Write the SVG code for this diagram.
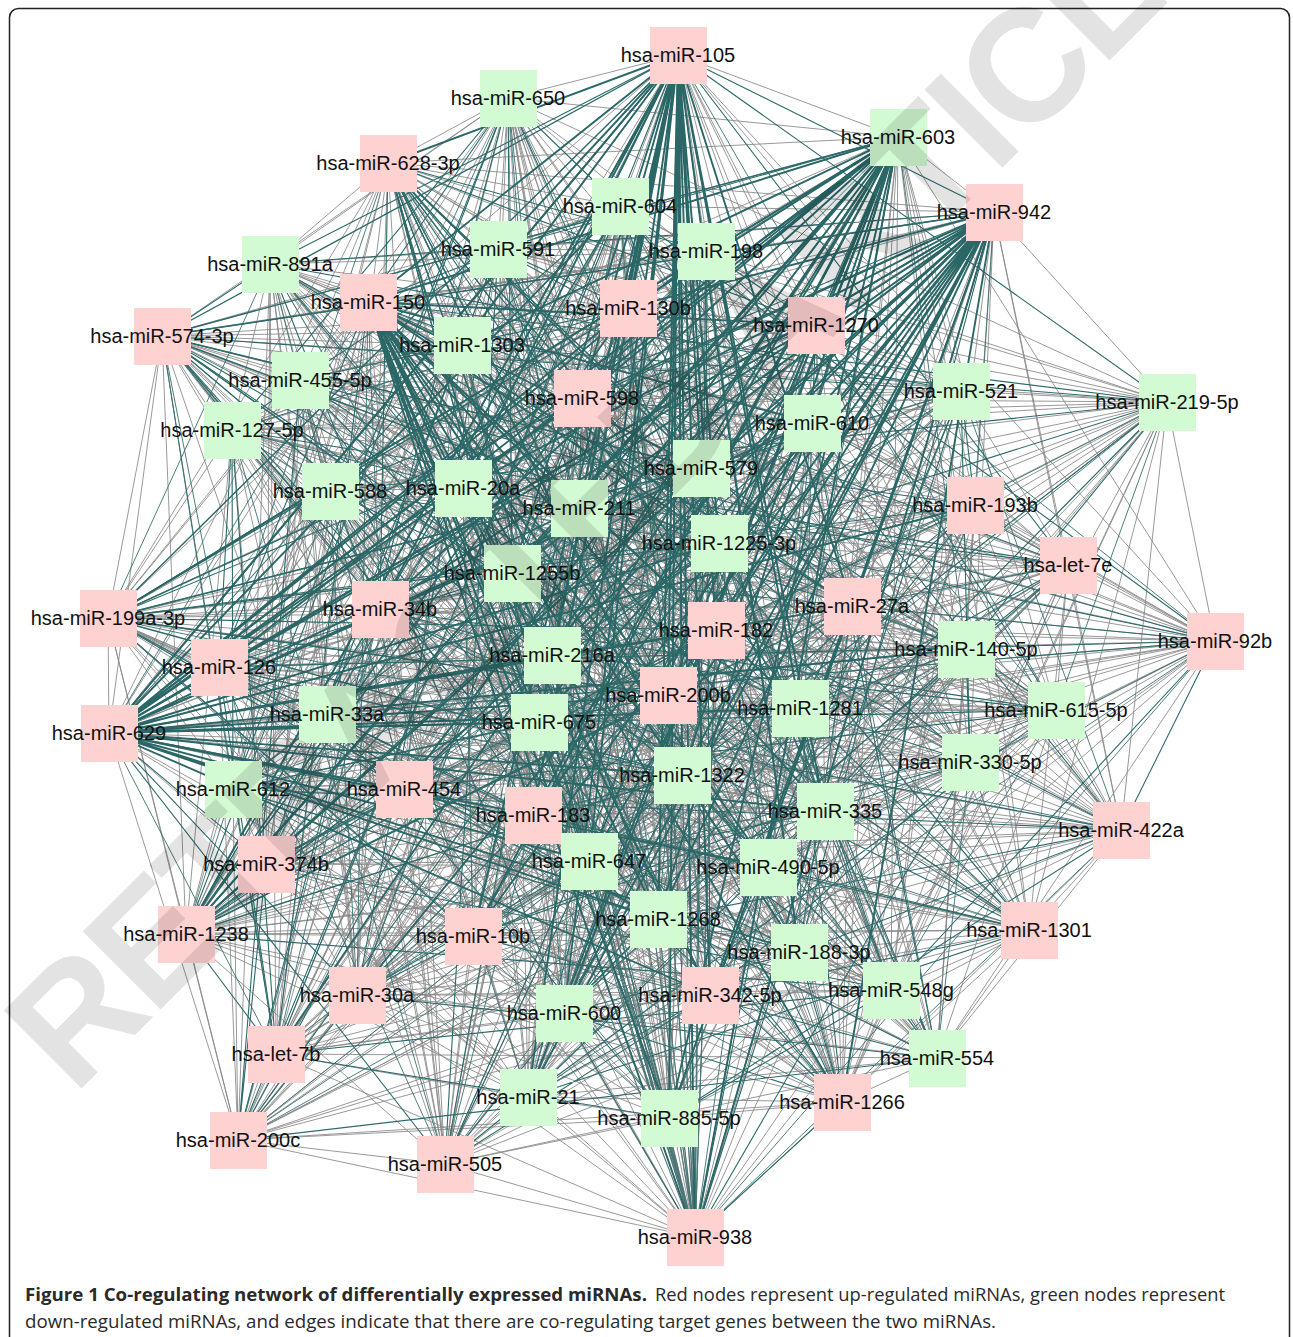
<svg xmlns="http://www.w3.org/2000/svg" width="1293" height="1337" viewBox="0 0 1293 1337">
<style>
.eg{fill:none;stroke:#868686;stroke-width:0.85;stroke-linejoin:round}
.et{fill:none;stroke:#2e6a6a;stroke-width:1.1;stroke-linejoin:round}
.et2{fill:none;stroke:#3a6f6f;stroke-width:0.9;stroke-linejoin:round}
.es{fill:none;stroke:#2e6a6a;stroke-width:1.4;stroke-linejoin:round}
.eb{fill:none;stroke:#4f7777;stroke-width:1.1;stroke-linejoin:round}
.eh{fill:none;stroke:#2b6767;stroke-width:1.9;stroke-linejoin:round}
.r{fill:#ffd2d2}
.g{fill:#d3fbd3}
.lb{font-family:"Liberation Sans",Arial,sans-serif;font-size:20px;fill:#111;text-anchor:middle}
.cap{font-family:"Open Sans","Noto Sans","Liberation Sans",sans-serif;font-size:18.5px;fill:#2a2a2a}
</style>
<rect x="9.5" y="8.5" width="1280" height="1340" rx="9" fill="#fff" stroke="#222" stroke-width="1.5"/>
<g id="connectors">
<polygon class="eg" points="678,55 508,98 898,137 388,163 994,212 620,206 498,249 706,251 270,264 368,302 628,308 816,325 162,336 462,345 300,380 582,398 961,391 1167,402 232,430 812,423 701,468 330,491 463,488 579,508 975,505 719,543 1068,565 512,573 108,618 380,609 852,606 1215,641 716,630 552,655 966,649 219,667 668,695 1056,710 800,708 327,714 539,722 109,733 970,762 682,775 233,789 404,789 825,811 533,815 1121,830 266,864 589,861 768,867 658,919 186,934 473,936 1029,930 799,952 891,990 357,995 710,995 564,1013 276,1054 937,1058 528,1097 842,1102 669,1118 238,1140 445,1164 695,1237"/>
<polygon class="eg" points="678,55 898,137 994,212 498,249 270,264 628,308 162,336 300,380 961,391 232,430 701,468 463,488 975,505 1068,565 108,618 852,606 716,630 966,649 668,695 800,708 539,722 970,762 233,789 825,811 1121,830 589,861 658,919 473,936 799,952 357,995 564,1013 937,1058 842,1102 238,1140 695,1237 508,98 388,163 620,206 706,251 368,302 816,325 462,345 582,398 1167,402 812,423 330,491 579,508 719,543 512,573 380,609 1215,641 552,655 219,667 1056,710 327,714 109,733 682,775 404,789 533,815 266,864 768,867 186,934 1029,930 891,990 710,995 276,1054 528,1097 669,1118 445,1164"/>
<polygon class="eg" points="678,55 620,206 628,308 582,398 701,468 719,543 852,606 219,667 539,722 404,789 589,861 1029,930 564,1013 669,1118 508,98 498,249 816,325 961,391 330,491 1068,565 1215,641 668,695 109,733 825,811 768,867 799,952 276,1054 238,1140 898,137 706,251 162,336 1167,402 463,488 512,573 716,630 1056,710 970,762 533,815 658,919 891,990 937,1058 445,1164 388,163 270,264 462,345 232,430 579,508 108,618 552,655 800,708 682,775 1121,830 186,934 357,995 528,1097 695,1237 994,212 368,302 300,380 812,423 975,505 380,609 966,649 327,714 233,789 266,864 473,936 710,995 842,1102"/>
<polygon class="eg" points="678,55 706,251 300,380 330,491 108,618 219,667 970,762 266,864 799,952 528,1097 508,98 270,264 582,398 463,488 380,609 668,695 682,775 589,861 891,990 842,1102 898,137 368,302 961,391 579,508 852,606 1056,710 233,789 768,867 357,995 669,1118 388,163 628,308 1167,402 975,505 1215,641 800,708 404,789 658,919 710,995 238,1140 994,212 816,325 232,430 719,543 716,630 327,714 825,811 186,934 564,1013 445,1164 620,206 162,336 812,423 1068,565 552,655 539,722 533,815 473,936 276,1054 695,1237 498,249 462,345 701,468 512,573 966,649 109,733 1121,830 1029,930 937,1058"/>
<polygon class="eg" points="678,55 628,308 701,468 852,606 539,722 589,861 564,1013 508,98 816,325 330,491 1215,641 109,733 768,867 276,1054 898,137 162,336 463,488 716,630 970,762 658,919 937,1058 388,163 462,345 579,508 552,655 682,775 186,934 528,1097 994,212 300,380 975,505 966,649 233,789 473,936 842,1102 620,206 582,398 719,543 219,667 404,789 1029,930 669,1118 498,249 961,391 1068,565 668,695 825,811 799,952 238,1140 706,251 1167,402 512,573 1056,710 533,815 891,990 445,1164 270,264 232,430 108,618 800,708 1121,830 357,995 695,1237 368,302 812,423 380,609 327,714 266,864 710,995"/>
<polygon class="eg" points="678,55 816,325 463,488 552,655 233,789 1029,930 238,1140 270,264 812,423 852,606 109,733 658,919 528,1097 620,206 961,391 512,573 800,708 266,864 564,1013 898,137 462,345 975,505 219,667 825,811 891,990 695,1237 628,308 330,491 716,630 682,775 473,936 669,1118 706,251 232,430 380,609 539,722 768,867 937,1058 994,212 582,398 1068,565 1056,710 1121,830 710,995 508,98 162,336 579,508 966,649 404,789 799,952 445,1164 368,302 701,468 1215,641 970,762 186,934 842,1102 498,249 1167,402 108,618 327,714 589,861 276,1054 388,163 300,380 719,543 668,695 533,815 357,995"/>
<polygon class="eg" points="678,55 462,345 1068,565 327,714 658,919 669,1118 368,302 463,488 219,667 1121,830 276,1054 620,206 232,430 1215,641 233,789 891,990 508,98 300,380 512,573 539,722 186,934 238,1140 628,308 579,508 668,695 266,864 937,1058 498,249 812,423 716,630 404,789 357,995 898,137 582,398 108,618 109,733 473,936 445,1164 816,325 975,505 1056,710 589,861 528,1097 706,251 701,468 552,655 825,811 710,995 388,163 961,391 380,609 970,762 1029,930 695,1237 162,336 719,543 800,708 768,867 842,1102 270,264 330,491 966,649 533,815 564,1013 994,212 1167,402 852,606 682,775 799,952"/>
<polygon class="eg" points="678,55 961,391 716,630 1121,830 842,1102 816,325 512,573 682,775 710,995 498,249 463,488 800,708 473,936 508,98 1167,402 552,655 266,864 669,1118 162,336 108,618 233,789 564,1013 706,251 579,508 327,714 1029,930 898,137 232,430 966,649 589,861 238,1140 462,345 380,609 404,789 276,1054 270,264 975,505 539,722 799,952 388,163 812,423 219,667 768,867 445,1164 300,380 852,606 825,811 937,1058 368,302 719,543 109,733 891,990 994,212 701,468 668,695 658,919 695,1237 582,398 1215,641 533,815 528,1097 628,308 1068,565 970,762 357,995 620,206 330,491 1056,710 186,934"/>
<polygon class="eg" points="678,55 812,423 800,708 891,990 706,251 1068,565 404,789 842,1102 300,380 552,655 658,919 898,137 330,491 539,722 710,995 368,302 108,618 533,815 238,1140 961,391 219,667 473,936 994,212 579,508 970,762 276,1054 816,325 852,606 266,864 695,1237 232,430 1056,710 799,952 498,249 719,543 233,789 528,1097 462,345 716,630 768,867 508,98 701,468 327,714 357,995 270,264 512,573 825,811 669,1118 582,398 966,649 186,934 388,163 463,488 109,733 564,1013 628,308 380,609 1121,830 445,1164 1167,402 668,695 1029,930 620,206 975,505 682,775 937,1058 162,336 1215,641 589,861"/>
<polygon class="eg" points="678,55 463,488 233,789 238,1140 812,423 109,733 528,1097 961,391 800,708 564,1013 462,345 219,667 891,990 628,308 716,630 473,936 706,251 380,609 768,867 994,212 1068,565 1121,830 508,98 579,508 404,789 445,1164 701,468 970,762 842,1102 1167,402 327,714 276,1054 300,380 668,695 357,995 816,325 552,655 1029,930 270,264 852,606 658,919 620,206 512,573 266,864 898,137 975,505 825,811 695,1237 330,491 682,775 669,1118 232,430 539,722 937,1058 582,398 1056,710 710,995 162,336 966,649 799,952 368,302 1215,641 186,934 498,249 108,618 589,861 388,163 719,543 533,815"/>
<polygon class="eg" points="678,55 719,543 589,861 498,249 1215,641 799,952 162,336 1056,710 937,1058 232,430 682,775 695,1237 975,505 266,864 620,206 852,606 1029,930 816,325 668,695 276,1054 1167,402 970,762 445,1164 579,508 1121,830 994,212 380,609 473,936 628,308 219,667 564,1013 961,391 109,733 238,1140 463,488 533,815 388,163 108,618 186,934 368,302 966,649 710,995 582,398 539,722 669,1118 330,491 825,811 898,137 512,573 658,919 270,264 552,655 357,995 300,380 327,714 842,1102 701,468 404,789 508,98 1068,565 768,867 706,251 716,630 891,990 462,345 800,708 528,1097 812,423 233,789"/>
<polygon class="eg" points="678,55 108,618 799,952 582,398 682,775 898,137 852,606 357,995 1167,402 404,789 994,212 716,630 564,1013 812,423 533,815 498,249 966,649 937,1058 330,491 266,864 270,264 668,695 842,1102 579,508 768,867 628,308 800,708 238,1140 719,543 186,934 162,336 539,722 695,1237 512,573 1029,930 300,380 970,762 508,98 380,609 891,990 961,391 233,789 388,163 1215,641 710,995 232,430 825,811 620,206 552,655 276,1054 701,468 1121,830 706,251 219,667 528,1097 463,488 589,861 368,302 1056,710 669,1118 975,505 658,919 816,325 327,714 445,1164 1068,565 473,936 462,345 109,733"/>
<polygon class="eg" points="678,55 1215,641 937,1058 975,505 1029,930 1167,402 1121,830 628,308 109,733 388,163 966,649 669,1118 512,573 357,995 701,468 768,867 462,345 233,789 498,249 1056,710 695,1237 852,606 276,1054 579,508 473,936 961,391 533,815 368,302 539,722 898,137 552,655 842,1102 1068,565 891,990 812,423 589,861 162,336 682,775 620,206 668,695 445,1164 380,609 564,1013 463,488 186,934 582,398 825,811 270,264 327,714 508,98 716,630 528,1097 719,543 799,952 232,430 266,864 816,325 970,762 994,212 219,667 238,1140 108,618 710,995 330,491 658,919 300,380 404,789 706,251 800,708"/>
<polygon class="eg" points="678,55 966,649 695,1237 552,655 445,1164 716,630 238,1140 1215,641 669,1118 852,606 842,1102 380,609 528,1097 108,618 937,1058 512,573 276,1054 1068,565 564,1013 719,543 710,995 975,505 357,995 579,508 891,990 463,488 799,952 330,491 1029,930 701,468 473,936 812,423 186,934 232,430 658,919 1167,402 768,867 961,391 589,861 582,398 266,864 300,380 1121,830 462,345 533,815 162,336 825,811 816,325 404,789 628,308 233,789 368,302 682,775 270,264 970,762 706,251 109,733 498,249 539,722 620,206 327,714 994,212 800,708 388,163 1056,710 898,137 668,695 508,98 219,667"/>
<polygon class="eg" points="678,55 300,380 108,618 970,762 799,952 508,98 582,398 380,609 682,775 891,990 898,137 961,391 852,606 233,789 357,995 388,163 1167,402 1215,641 404,789 710,995 994,212 232,430 716,630 825,811 564,1013 620,206 812,423 552,655 533,815 276,1054 498,249 701,468 966,649 1121,830 937,1058 706,251 330,491 219,667 266,864 528,1097 270,264 463,488 668,695 589,861 842,1102 368,302 579,508 1056,710 768,867 669,1118 628,308 975,505 800,708 658,919 238,1140 816,325 719,543 327,714 186,934 445,1164 162,336 1068,565 539,722 473,936 695,1237 462,345 512,573 109,733 1029,930"/>
<polygon class="eg" points="678,55 380,609 357,995 232,430 533,815 706,251 668,695 669,1118 719,543 473,936 300,380 682,775 388,163 716,630 276,1054 330,491 589,861 628,308 327,714 695,1237 108,618 891,990 1167,402 825,811 498,249 219,667 842,1102 975,505 186,934 462,345 970,762 898,137 1215,641 564,1013 701,468 266,864 368,302 800,708 445,1164 512,573 799,952 961,391 404,789 620,206 966,649 528,1097 579,508 658,919 162,336 109,733 508,98 852,606 710,995 812,423 1121,830 270,264 1056,710 238,1140 1068,565 1029,930 582,398 233,789 994,212 552,655 937,1058 463,488 768,867 816,325 539,722"/>
<polygon class="et" points="678,55 994,212 270,264 162,336 961,391 701,468 975,505 108,618 716,630 668,695 539,722 233,789 1121,830 658,919 799,952 564,1013 842,1102 695,1237 388,163 706,251 816,325 582,398 812,423 579,508 512,573 1215,641 219,667 327,714 682,775 533,815 768,867 1029,930 710,995 528,1097 445,1164 898,137 498,249 628,308 300,380 232,430 463,488 1068,565 852,606 966,649 800,708 970,762 825,811 589,861 473,936 357,995 937,1058 238,1140 508,98 620,206 368,302 462,345 1167,402 330,491 719,543 380,609 552,655 1056,710 109,733 404,789 266,864 186,934 891,990 276,1054 669,1118"/>
<polygon class="et" points="678,55 270,264 961,391 975,505 716,630 539,722 1121,830 799,952 842,1102 388,163 816,325 812,423 512,573 219,667 682,775 768,867 710,995 445,1164 498,249 300,380 463,488 852,606 800,708 825,811 473,936 937,1058 508,98 368,302 1167,402 719,543 552,655 109,733 266,864 891,990 669,1118 994,212 162,336 701,468 108,618 668,695 233,789 658,919 564,1013 695,1237 706,251 582,398 579,508 1215,641 327,714 533,815 1029,930 528,1097 898,137 628,308 232,430 1068,565 966,649 970,762 589,861 357,995 238,1140 620,206 462,345 330,491 380,609 1056,710 404,789 186,934 276,1054"/>
<polygon class="et" points="678,55 1167,402 966,649 768,867 695,1237 961,391 552,655 589,861 445,1164 582,398 716,630 266,864 238,1140 300,380 1215,641 1121,830 669,1118 462,345 852,606 533,815 842,1102 162,336 380,609 825,811 528,1097 816,325 108,618 404,789 937,1058 628,308 512,573 233,789 276,1054 368,302 1068,565 682,775 564,1013 270,264 719,543 970,762 710,995 706,251 975,505 109,733 357,995 498,249 579,508 539,722 891,990 620,206 463,488 327,714 799,952 994,212 330,491 800,708 1029,930 388,163 701,468 1056,710 473,936 898,137 812,423 668,695 186,934 508,98 232,430 219,667 658,919"/>
<polygon class="et" points="678,55 1068,565 658,919 368,302 219,667 276,1054 232,430 233,789 508,98 512,573 186,934 628,308 668,695 937,1058 812,423 404,789 898,137 108,618 473,936 816,325 1056,710 528,1097 701,468 825,811 388,163 380,609 1029,930 162,336 800,708 842,1102 330,491 533,815 994,212 852,606 799,952 462,345 327,714 669,1118 463,488 1121,830 620,206 1215,641 891,990 300,380 539,722 238,1140 579,508 266,864 498,249 716,630 357,995 582,398 109,733 445,1164 975,505 589,861 706,251 552,655 710,995 961,391 970,762 695,1237 719,543 768,867 270,264 966,649 564,1013 1167,402 682,775"/>
<polygon class="et2" points="678,55 539,722 564,1013 816,325 1215,641 768,867 898,137 463,488 970,762 937,1058 462,345 552,655 186,934 994,212 975,505 233,789 842,1102 582,398 219,667 1029,930 498,249 1068,565 825,811 238,1140 1167,402 1056,710 891,990 270,264 108,618 1121,830 695,1237 812,423 327,714 710,995 628,308 852,606 589,861 508,98 330,491 109,733 276,1054 162,336 716,630 658,919 388,163 579,508 682,775 528,1097 300,380 966,649 473,936 620,206 719,543 404,789 669,1118 961,391 668,695 799,952 706,251 512,573 533,815 445,1164 232,430 800,708 357,995 368,302 380,609 266,864"/>
<polygon class="et2" points="678,55 716,630 842,1102 512,573 710,995 463,488 473,936 1167,402 266,864 162,336 233,789 706,251 327,714 898,137 966,649 238,1140 380,609 276,1054 975,505 799,952 812,423 768,867 300,380 825,811 368,302 109,733 994,212 668,695 695,1237 1215,641 528,1097 1068,565 357,995 330,491 186,934 961,391 1121,830 816,325 682,775 498,249 800,708 508,98 552,655 669,1118 108,618 564,1013 579,508 1029,930 232,430 589,861 462,345 404,789 270,264 539,722 388,163 219,667 445,1164 852,606 937,1058 719,543 891,990 701,468 658,919 582,398 533,815 628,308 970,762 620,206 1056,710"/>
<polyline class="es" points="186,934 678,55 186,934 898,137 186,934 994,212 186,934 620,206 186,934 628,308 186,934 582,398 186,934 701,468 186,934 719,543 186,934 716,630 186,934 668,695 186,934 682,775 186,934 852,606"/>
<polyline class="es" points="108,618 678,55 108,618 898,137 108,618 994,212 108,618 628,308 108,618 701,468 108,618 719,543 108,618 668,695 108,618 682,775 108,618 658,919"/>
<polyline class="es" points="162,336 678,55 162,336 898,137 162,336 994,212 162,336 701,468 162,336 719,543 162,336 668,695 162,336 682,775 162,336 658,919"/>
<polyline class="es" points="388,163 701,468 388,163 719,543 388,163 668,695 388,163 682,775 388,163 658,919 388,163 589,861 388,163 539,722 388,163 852,606 388,163 800,708"/>
<polyline class="eb" points="695,1237 898,137 695,1237 994,212 695,1237 620,206 695,1237 628,308 695,1237 582,398 695,1237 701,468 695,1237 579,508 695,1237 719,543 695,1237 716,630 695,1237 668,695 695,1237 682,775 695,1237 533,815 695,1237 589,861 695,1237 658,919 695,1237 552,655 695,1237 539,722 695,1237 512,573 695,1237 463,488 695,1237 462,345"/>
<polyline class="eh" points="678,55 388,163 678,55 498,249 678,55 368,302 678,55 628,308 678,55 462,345 678,55 582,398 678,55 701,468 678,55 463,488 678,55 579,508 678,55 719,543 678,55 512,573 678,55 380,609 678,55 716,630 678,55 552,655 678,55 668,695 678,55 539,722 678,55 682,775 678,55 533,815 678,55 589,861 678,55 658,919 678,55 473,936 678,55 710,995 678,55 564,1013 678,55 528,1097 678,55 669,1118 678,55 695,1237 678,55 109,733 678,55 186,934 678,55 852,606 678,55 800,708 678,55 825,811 678,55 799,952"/>
<polyline class="eh" points="898,137 368,302 898,137 628,308 898,137 462,345 898,137 582,398 898,137 701,468 898,137 463,488 898,137 579,508 898,137 512,573 898,137 380,609 898,137 552,655 898,137 668,695 898,137 539,722 898,137 682,775 898,137 533,815 898,137 589,861 898,137 658,919 898,137 473,936 898,137 564,1013 898,137 528,1097 898,137 669,1118 898,137 695,1237 898,137 109,733 898,137 186,934 898,137 276,1054 898,137 108,618 898,137 404,789 898,137 219,667"/>
<polyline class="eh" points="994,212 628,308 994,212 582,398 994,212 701,468 994,212 463,488 994,212 579,508 994,212 719,543 994,212 512,573 994,212 380,609 994,212 716,630 994,212 552,655 994,212 668,695 994,212 539,722 994,212 682,775 994,212 404,789 994,212 533,815 994,212 589,861 994,212 658,919 994,212 473,936 994,212 710,995 994,212 564,1013 994,212 528,1097 994,212 669,1118 994,212 695,1237 994,212 109,733 994,212 186,934 994,212 357,995 994,212 842,1102"/>
<polyline class="eh" points="109,733 678,55 109,733 898,137 109,733 994,212 109,733 620,206 109,733 706,251 109,733 628,308 109,733 816,325 109,733 582,398 109,733 812,423 109,733 701,468 109,733 579,508 109,733 719,543 109,733 852,606 109,733 716,630 109,733 668,695 109,733 800,708 109,733 682,775 109,733 825,811 109,733 533,815 109,733 768,867 109,733 658,919 109,733 799,952 109,733 710,995 109,733 463,488 109,733 552,655 109,733 539,722 109,733 589,861 109,733 975,505 109,733 966,649"/>
<polyline class="eh" points="368,302 701,468 368,302 579,508 368,302 719,543 368,302 716,630 368,302 668,695 368,302 800,708 368,302 682,775 368,302 825,811 368,302 768,867 368,302 658,919 368,302 799,952 368,302 710,995 368,302 842,1102 368,302 669,1118 368,302 695,1237 368,302 552,655 368,302 539,722 368,302 533,815 368,302 589,861 368,302 852,606 368,302 816,325 368,302 812,423"/>
</g>
<g id="nodes">
<g id="n105"><rect class="r" x="650" y="27" width="57" height="57"/><text class="lb" x="678" y="62">hsa-miR-105</text></g>
<g id="n650"><rect class="g" x="480" y="70" width="57" height="57"/><text class="lb" x="508" y="105">hsa-miR-650</text></g>
<g id="n603"><rect class="g" x="870" y="109" width="57" height="57"/><text class="lb" x="898" y="144">hsa-miR-603</text></g>
<g id="n628-3p"><rect class="r" x="360" y="135" width="57" height="57"/><text class="lb" x="388" y="170">hsa-miR-628-3p</text></g>
<g id="n942"><rect class="r" x="966" y="184" width="57" height="57"/><text class="lb" x="994" y="219">hsa-miR-942</text></g>
<g id="n604"><rect class="g" x="592" y="178" width="57" height="57"/><text class="lb" x="620" y="213">hsa-miR-604</text></g>
<g id="n591"><rect class="g" x="470" y="221" width="57" height="57"/><text class="lb" x="498" y="256">hsa-miR-591</text></g>
<g id="n198"><rect class="g" x="678" y="223" width="57" height="57"/><text class="lb" x="706" y="258">hsa-miR-198</text></g>
<g id="n891a"><rect class="g" x="242" y="236" width="57" height="57"/><text class="lb" x="270" y="271">hsa-miR-891a</text></g>
<g id="n150"><rect class="r" x="340" y="274" width="57" height="57"/><text class="lb" x="368" y="309">hsa-miR-150</text></g>
<g id="n130b"><rect class="r" x="600" y="280" width="57" height="57"/><text class="lb" x="628" y="315">hsa-miR-130b</text></g>
<g id="n1270"><rect class="r" x="788" y="297" width="57" height="57"/><text class="lb" x="816" y="332">hsa-miR-1270</text></g>
<g id="n574-3p"><rect class="r" x="134" y="308" width="57" height="57"/><text class="lb" x="162" y="343">hsa-miR-574-3p</text></g>
<g id="n1303"><rect class="g" x="434" y="317" width="57" height="57"/><text class="lb" x="462" y="352">hsa-miR-1303</text></g>
<g id="n455-5p"><rect class="g" x="272" y="352" width="57" height="57"/><text class="lb" x="300" y="387">hsa-miR-455-5p</text></g>
<g id="n598"><rect class="r" x="554" y="370" width="57" height="57"/><text class="lb" x="582" y="405">hsa-miR-598</text></g>
<g id="n521"><rect class="g" x="933" y="363" width="57" height="57"/><text class="lb" x="961" y="398">hsa-miR-521</text></g>
<g id="n219-5p"><rect class="g" x="1139" y="374" width="57" height="57"/><text class="lb" x="1167" y="409">hsa-miR-219-5p</text></g>
<g id="n127-5p"><rect class="g" x="204" y="402" width="57" height="57"/><text class="lb" x="232" y="437">hsa-miR-127-5p</text></g>
<g id="n610"><rect class="g" x="784" y="395" width="57" height="57"/><text class="lb" x="812" y="430">hsa-miR-610</text></g>
<g id="n579"><rect class="g" x="673" y="440" width="57" height="57"/><text class="lb" x="701" y="475">hsa-miR-579</text></g>
<g id="n588"><rect class="g" x="302" y="463" width="57" height="57"/><text class="lb" x="330" y="498">hsa-miR-588</text></g>
<g id="n20a"><rect class="g" x="435" y="460" width="57" height="57"/><text class="lb" x="463" y="495">hsa-miR-20a</text></g>
<g id="n211"><rect class="g" x="551" y="480" width="57" height="57"/><text class="lb" x="579" y="515">hsa-miR-211</text></g>
<g id="n193b"><rect class="r" x="947" y="477" width="57" height="57"/><text class="lb" x="975" y="512">hsa-miR-193b</text></g>
<g id="n1225-3p"><rect class="g" x="691" y="515" width="57" height="57"/><text class="lb" x="719" y="550">hsa-miR-1225-3p</text></g>
<g id="let-7e"><rect class="r" x="1040" y="537" width="57" height="57"/><text class="lb" x="1068" y="572">hsa-let-7e</text></g>
<g id="n1255b"><rect class="g" x="484" y="545" width="57" height="57"/><text class="lb" x="512" y="580">hsa-miR-1255b</text></g>
<g id="n199a-3p"><rect class="r" x="80" y="590" width="57" height="57"/><text class="lb" x="108" y="625">hsa-miR-199a-3p</text></g>
<g id="n34b"><rect class="r" x="352" y="581" width="57" height="57"/><text class="lb" x="380" y="616">hsa-miR-34b</text></g>
<g id="n27a"><rect class="r" x="824" y="578" width="57" height="57"/><text class="lb" x="852" y="613">hsa-miR-27a</text></g>
<g id="n92b"><rect class="r" x="1187" y="613" width="57" height="57"/><text class="lb" x="1215" y="648">hsa-miR-92b</text></g>
<g id="n182"><rect class="r" x="688" y="602" width="57" height="57"/><text class="lb" x="716" y="637">hsa-miR-182</text></g>
<g id="n216a"><rect class="g" x="524" y="627" width="57" height="57"/><text class="lb" x="552" y="662">hsa-miR-216a</text></g>
<g id="n140-5p"><rect class="g" x="938" y="621" width="57" height="57"/><text class="lb" x="966" y="656">hsa-miR-140-5p</text></g>
<g id="n126"><rect class="r" x="191" y="639" width="57" height="57"/><text class="lb" x="219" y="674">hsa-miR-126</text></g>
<g id="n200b"><rect class="r" x="640" y="667" width="57" height="57"/><text class="lb" x="668" y="702">hsa-miR-200b</text></g>
<g id="n615-5p"><rect class="g" x="1028" y="682" width="57" height="57"/><text class="lb" x="1056" y="717">hsa-miR-615-5p</text></g>
<g id="n1281"><rect class="g" x="772" y="680" width="57" height="57"/><text class="lb" x="800" y="715">hsa-miR-1281</text></g>
<g id="n33a"><rect class="g" x="299" y="686" width="57" height="57"/><text class="lb" x="327" y="721">hsa-miR-33a</text></g>
<g id="n675"><rect class="g" x="511" y="694" width="57" height="57"/><text class="lb" x="539" y="729">hsa-miR-675</text></g>
<g id="n629"><rect class="r" x="81" y="705" width="57" height="57"/><text class="lb" x="109" y="740">hsa-miR-629</text></g>
<g id="n330-5p"><rect class="g" x="942" y="734" width="57" height="57"/><text class="lb" x="970" y="769">hsa-miR-330-5p</text></g>
<g id="n1322"><rect class="g" x="654" y="747" width="57" height="57"/><text class="lb" x="682" y="782">hsa-miR-1322</text></g>
<g id="n612"><rect class="g" x="205" y="761" width="57" height="57"/><text class="lb" x="233" y="796">hsa-miR-612</text></g>
<g id="n454"><rect class="r" x="376" y="761" width="57" height="57"/><text class="lb" x="404" y="796">hsa-miR-454</text></g>
<g id="n335"><rect class="g" x="797" y="783" width="57" height="57"/><text class="lb" x="825" y="818">hsa-miR-335</text></g>
<g id="n183"><rect class="r" x="505" y="787" width="57" height="57"/><text class="lb" x="533" y="822">hsa-miR-183</text></g>
<g id="n422a"><rect class="r" x="1093" y="802" width="57" height="57"/><text class="lb" x="1121" y="837">hsa-miR-422a</text></g>
<g id="n374b"><rect class="r" x="238" y="836" width="57" height="57"/><text class="lb" x="266" y="871">hsa-miR-374b</text></g>
<g id="n647"><rect class="g" x="561" y="833" width="57" height="57"/><text class="lb" x="589" y="868">hsa-miR-647</text></g>
<g id="n490-5p"><rect class="g" x="740" y="839" width="57" height="57"/><text class="lb" x="768" y="874">hsa-miR-490-5p</text></g>
<g id="n1268"><rect class="g" x="630" y="891" width="57" height="57"/><text class="lb" x="658" y="926">hsa-miR-1268</text></g>
<g id="n1238"><rect class="r" x="158" y="906" width="57" height="57"/><text class="lb" x="186" y="941">hsa-miR-1238</text></g>
<g id="n10b"><rect class="r" x="445" y="908" width="57" height="57"/><text class="lb" x="473" y="943">hsa-miR-10b</text></g>
<g id="n1301"><rect class="r" x="1001" y="902" width="57" height="57"/><text class="lb" x="1029" y="937">hsa-miR-1301</text></g>
<g id="n188-3p"><rect class="g" x="771" y="924" width="57" height="57"/><text class="lb" x="799" y="959">hsa-miR-188-3p</text></g>
<g id="n548g"><rect class="g" x="863" y="962" width="57" height="57"/><text class="lb" x="891" y="997">hsa-miR-548g</text></g>
<g id="n30a"><rect class="r" x="329" y="967" width="57" height="57"/><text class="lb" x="357" y="1002">hsa-miR-30a</text></g>
<g id="n342-5p"><rect class="r" x="682" y="967" width="57" height="57"/><text class="lb" x="710" y="1002">hsa-miR-342-5p</text></g>
<g id="n600"><rect class="g" x="536" y="985" width="57" height="57"/><text class="lb" x="564" y="1020">hsa-miR-600</text></g>
<g id="let-7b"><rect class="r" x="248" y="1026" width="57" height="57"/><text class="lb" x="276" y="1061">hsa-let-7b</text></g>
<g id="n554"><rect class="g" x="909" y="1030" width="57" height="57"/><text class="lb" x="937" y="1065">hsa-miR-554</text></g>
<g id="n21"><rect class="g" x="500" y="1069" width="57" height="57"/><text class="lb" x="528" y="1104">hsa-miR-21</text></g>
<g id="n1266"><rect class="r" x="814" y="1074" width="57" height="57"/><text class="lb" x="842" y="1109">hsa-miR-1266</text></g>
<g id="n885-5p"><rect class="g" x="641" y="1090" width="57" height="57"/><text class="lb" x="669" y="1125">hsa-miR-885-5p</text></g>
<g id="n200c"><rect class="r" x="210" y="1112" width="57" height="57"/><text class="lb" x="238" y="1147">hsa-miR-200c</text></g>
<g id="n505"><rect class="r" x="417" y="1136" width="57" height="57"/><text class="lb" x="445" y="1171">hsa-miR-505</text></g>
<g id="n938"><rect class="r" x="667" y="1209" width="57" height="57"/><text class="lb" x="695" y="1244">hsa-miR-938</text></g>
</g>
<text x="74" y="1096" transform="rotate(-45 74 1096)" font-family="Liberation Sans, Arial, sans-serif" font-size="160" font-weight="bold" fill="#000" fill-opacity="0.11" letter-spacing="-4">RETRACTED ARTICLE</text>
<text class="cap" x="25" y="1301" font-weight="bold" textLength="622" lengthAdjust="spacingAndGlyphs">Figure 1 Co-regulating network of differentially expressed miRNAs.</text>
<text class="cap" x="655" y="1301" textLength="570" lengthAdjust="spacingAndGlyphs">Red nodes represent up-regulated miRNAs, green nodes represent</text>
<text class="cap" x="25" y="1328" textLength="971" lengthAdjust="spacingAndGlyphs">down-regulated miRNAs, and edges indicate that there are co-regulating target genes between the two miRNAs.</text>
</svg>
